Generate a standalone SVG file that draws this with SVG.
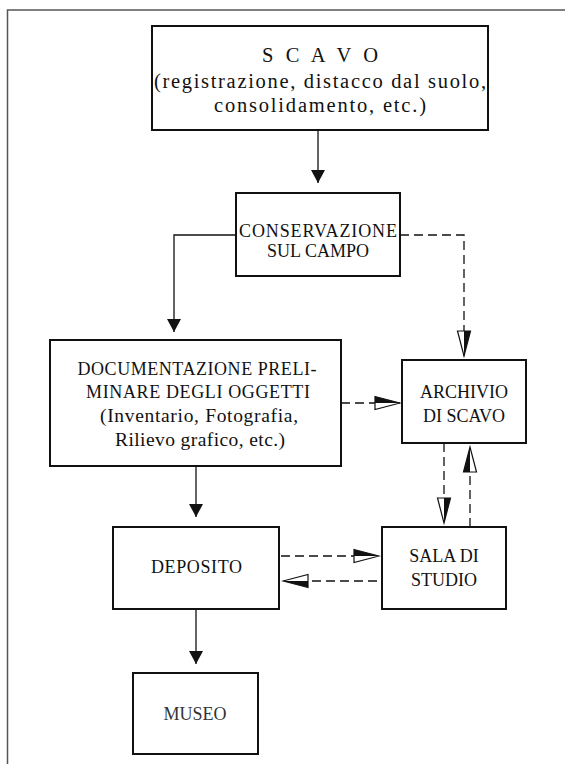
<svg xmlns="http://www.w3.org/2000/svg" width="565" height="764" viewBox="0 0 565 764">
<style>
.box{fill:#fff;stroke:#111;stroke-width:2}
.frame{fill:none;stroke:#555;stroke-width:1.5}
.t{font-family:"Liberation Serif","Times New Roman",serif;fill:#111;text-anchor:middle}
.cap{font-size:18px}
.low{font-size:19.5px}
.big{font-size:20.5px}
.ln{fill:none;stroke:#111;stroke-width:1.3}
.solid{marker-end:url(#solidHead)}
.dash{stroke-dasharray:9 5;marker-end:url(#halfHead)}
</style>
<defs>
<marker id="solidHead" markerUnits="userSpaceOnUse" viewBox="0 -8 14 16" markerWidth="14" markerHeight="16" refX="13" refY="0" orient="auto">
<path d="M0,-7 L13,0 L0,7 Z" fill="#111"/>
</marker>
<marker id="halfHead" markerUnits="userSpaceOnUse" viewBox="-1 -8 28 16" markerWidth="28" markerHeight="16" refX="25" refY="0" orient="auto">
<path d="M0,-6.5 L25,0 L0,6.5 Z" fill="#fff" stroke="#111" stroke-width="1.2" stroke-linejoin="miter"/>
<path d="M0,-6.5 L25,0 L0,0 Z" fill="#111"/>
</marker>
</defs>
<rect width="565" height="764" fill="#fff"/>
<path class="frame" d="M7.5,764 V10 H565"/>
<g id="connectors">
<path class="ln solid" d="M318,130 V183"/>
<path class="ln solid" d="M236,235 H174 V332"/>
<path class="ln dash" d="M400,235 H464 V356"/>
<path class="ln dash" d="M341,403 H400"/>
<path class="ln solid" d="M196,466 V517"/>
<path class="ln solid" d="M196,609 V664"/>
<path class="ln dash" d="M281,556 H379"/>
<path class="ln dash" d="M377,581 H283"/>
<path class="ln dash" d="M444,443 V523"/>
<path class="ln dash" d="M470,527 V447"/>
</g>
<g id="scavo">
<rect class="box" x="152" y="26" width="336" height="104"/>
<text class="t big" x="320" y="62" textLength="116" lengthAdjust="spacing">S C A V O</text>
<text class="t big" x="320" y="88" textLength="332" lengthAdjust="spacing">(registrazione, distacco dal suolo,</text>
<text class="t big" x="320" y="112" textLength="212" lengthAdjust="spacing">consolidamento, etc.)</text>
</g>
<g id="conservazione">
<rect class="box" x="236" y="193" width="164" height="83"/>
<text class="t cap" x="318" y="237" textLength="158" lengthAdjust="spacing">CONSERVAZIONE</text>
<text class="t cap" x="318" y="257">SUL CAMPO</text>
</g>
<g id="documentazione">
<rect class="box" x="50" y="340" width="291" height="126"/>
<text class="t cap" x="197" y="375" textLength="239" lengthAdjust="spacing">DOCUMENTAZIONE PRELI-</text>
<text class="t cap" x="198" y="398" textLength="224" lengthAdjust="spacing">MINARE DEGLI OGGETTI</text>
<text class="t low" x="199" y="422" textLength="198" lengthAdjust="spacing">(Inventario, Fotografia,</text>
<text class="t low" x="200" y="446" textLength="170" lengthAdjust="spacing">Rilievo grafico, etc.)</text>
</g>
<g id="archivio">
<rect class="box" x="402" y="360" width="124" height="83"/>
<text class="t cap" x="464" y="398">ARCHIVIO</text>
<text class="t cap" x="464" y="422">DI SCAVO</text>
</g>
<g id="deposito">
<rect class="box" x="113" y="527" width="166" height="82"/>
<text class="t cap" x="196.5" y="573" textLength="91" lengthAdjust="spacing">DEPOSITO</text>
</g>
<g id="sala">
<rect class="box" x="382" y="527" width="124" height="82"/>
<text class="t cap" x="444" y="562">SALA DI</text>
<text class="t cap" x="444" y="586">STUDIO</text>
</g>
<g id="museo">
<rect class="box" x="133" y="673" width="125" height="81"/>
<text class="t cap" x="195" y="720" fill="#333" style="fill:#333">MUSEO</text>
</g>
</svg>
